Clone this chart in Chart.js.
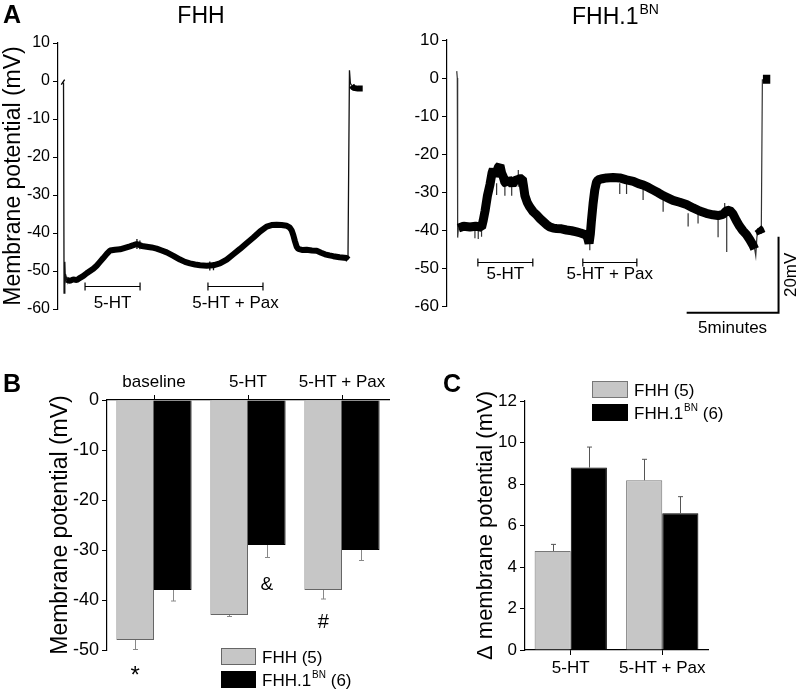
<!DOCTYPE html>
<html><head><meta charset="utf-8">
<script src="https://cdn.jsdelivr.net/npm/chart.js@4.4.1/dist/chart.umd.min.js"></script>
<style>
html,body{margin:0;padding:0;background:#fff}
body{width:800px;height:689px;position:relative;overflow:hidden}
canvas{position:absolute}
</style></head><body>
<canvas id="a1" width="400" height="345" style="left:0;top:0"></canvas>
<canvas id="a2" width="400" height="345" style="left:400px;top:0"></canvas>
<canvas id="b" width="400" height="369" style="left:0;top:320px"></canvas>
<canvas id="c" width="400" height="369" style="left:400px;top:320px"></canvas>
<script>
// ---------- Panel A: FHH trace (time in minutes, membrane potential in mV) ----------
const fhhTime = [0.24,0.30,null,0.47,0.65,0.83,1.02,1.20,1.38,1.56,1.74,1.92,2.10,2.28,2.46,2.65,2.83,3.10,3.37,3.64,3.91,4.10,4.28,4.55,4.82,5.09,5.36,5.64,5.91,6.27,6.63,6.90,7.17,7.45,7.72,8.08,8.44,8.80,9.17,9.53,9.89,10.25,10.62,10.98,11.34,11.61,11.88,12.15,12.43,12.60,12.70,12.79,12.88,12.97,13.06,13.30,13.51,13.80,14.06,14.30,14.51,14.75,14.96,15.30,15.69,15.78,null,15.96,16.05,16.30,16.56];
const fhhMv   = [-0.2,-0.4,null,-52.3,-52.6,-52.2,-52.4,-51.8,-51.3,-50.6,-50.0,-49.4,-48.6,-47.6,-46.6,-45.5,-44.6,-44.4,-44.3,-43.9,-43.5,-43.2,-42.9,-43.4,-43.6,-43.8,-44.1,-44.6,-45.1,-46.0,-47.0,-47.6,-48.0,-48.3,-48.5,-48.6,-48.5,-48.0,-47.0,-45.6,-44.2,-42.7,-41.2,-39.6,-38.3,-37.9,-37.8,-37.9,-38.1,-38.6,-39.3,-40.6,-42.2,-43.6,-44.2,-44.5,-44.4,-44.6,-44.7,-45.2,-45.6,-45.9,-46.1,-46.4,-46.6,-47.0,null,-1.2,-1.8,-2.0,-2.0];
const fhhJumpTime = [0.30,0.33,0.37,0.40,0.44,0.48,null,4.29,4.29,null,4.45,4.45,null,8.25,8.25,null,8.45,8.45,null,15.76,15.84,15.89,15.96];
const fhhJumpMv   = [-0.4,-55.8,-47.6,-52.6,-51.5,-52.3,null,-41.6,-44.2,null,-42.0,-44.3,null,-47.5,-49.9,null,-47.6,-49.8,null,-47.0,2.8,-0.6,-1.2];
const fhhDrugStart = [1.47, 8.15];
const fhhDrugEnd   = [4.46, 11.14];
const drugLabels   = ['5-HT', '5-HT + Pax'];
const fhhDrugMv    = -53.9;

// ---------- Panel A: FHH.1BN trace ----------
const bnTime = [0.62,0.90,1.25,1.56,1.88,1.97,2.07,2.20,2.34,2.45,2.52,2.61,2.70,2.79,2.88,2.97,3.06,3.15,3.24,3.33,3.42,3.56,3.70,3.83,3.97,4.10,4.15,4.24,4.37,4.51,4.69,4.87,5.06,5.24,5.42,5.60,5.78,5.96,6.23,6.50,6.78,7.05,7.27,7.50,7.64,7.73,7.80,7.86,7.95,8.04,8.13,8.22,8.45,8.68,9.04,9.40,9.77,10.14,10.42,10.69,10.96,11.23,11.50,11.78,12.04,12.30,12.66,13.03,13.39,13.75,14.11,14.47,14.75,15.02,15.20,15.38,15.56,15.74,15.92,16.10,16.29,16.47,16.65,16.74,null,16.92,17.01,17.10,null,17.19,17.59];
const bnMv   = [-39.5,-39.0,-39.2,-39.0,-39.3,-37.5,-35.0,-31.0,-28.0,-25.0,-24.0,-25.5,-25.0,-23.5,-23.0,-25.0,-26.0,-27.5,-27.8,-26.5,-27.2,-28.0,-27.0,-26.8,-26.5,-26.5,-28.0,-31.0,-32.8,-34.0,-35.2,-36.0,-37.0,-37.8,-38.6,-39.2,-39.5,-39.6,-39.7,-40.0,-40.2,-40.5,-40.8,-41.2,-41.8,-43.5,-41.0,-37.5,-33.0,-29.5,-27.5,-26.8,-26.5,-26.3,-26.2,-26.3,-26.8,-27.2,-27.8,-28.2,-28.8,-29.5,-30.2,-31.0,-31.6,-32.2,-32.7,-33.3,-34.2,-35.0,-35.6,-36.0,-36.2,-35.9,-35.0,-34.8,-35.8,-37.5,-39.0,-40.2,-41.2,-42.5,-44.0,-45.0,null,-39.5,-40.0,-41.0,null,-0.3,-0.3];
const bnJumpTime = [0.53,0.56,0.58,0.62,null,1.52,1.52,null,1.70,1.70,null,1.88,1.88,null,2.70,2.70,null,3.15,3.15,null,3.52,3.52,null,3.88,3.88,null,7.77,7.77,null,9.40,9.40,null,9.77,9.77,null,10.67,10.67,null,11.76,11.76,null,13.12,13.12,null,13.66,13.66,null,14.75,14.75,null,15.11,15.11,null,15.22,15.22,null,16.74,16.80,16.86,16.92,null,17.10,17.16,17.19];
const bnJumpMv   = [1.8,0.0,-42.0,-39.5,null,-40.0,-42.2,null,-40.0,-42.4,null,-40.0,-41.8,null,-27.7,-30.8,null,-27.7,-31.0,null,-27.7,-31.0,null,-24.2,-28.6,null,-42.0,-45.3,null,-27.7,-30.5,null,-27.7,-30.5,null,-28.5,-32.1,null,-32.1,-35.2,null,-35.6,-39.1,null,-35.8,-38.3,null,-37.4,-41.9,null,-32.9,-36.0,null,-36.0,-45.8,null,-45.0,-46.8,-42.0,-39.5,null,-41.0,-0.5,-0.3];
const bnDrugStart = [1.68, 7.39];
const bnDrugEnd   = [4.67, 10.33];
const bnDrugMv    = -48.3;
const scaleBarMinutes = 5, scaleBarMv = 20, scaleBarEndTime = 18.04, scaleBarBaseMv = -61.8;
const traceTicks = [10, 0, -10, -20, -30, -40, -50, -60];

// ---------- Panel B ----------
const bCategories = ['baseline', '5-HT', '5-HT + Pax'];
const bFHH    = [-48.0, -43.0, -38.0];
const bFHHErr = [1.9, 0.3, 1.8];
const bBN     = [-38.0, -29.0, -30.0];
const bBNErr  = [2.2, 2.5, 2.1];
const bMarks  = [['*', 0, 0, -56.6, 24], ['&', 1, 1, -38.0, 19], ['#', 2, 0, -45.6, 20]];

// ---------- Panel C ----------
const cCategories = ['5-HT', '5-HT + Pax'];
const cFHH    = [4.77, 8.18];
const cFHHErr = [0.32, 1.01];
const cBN     = [8.79, 6.59];
const cBNErr  = [0.99, 0.80];

const FONT = "'Liberation Sans', Arial, Helvetica, sans-serif";
Chart.defaults.font.family = FONT;
Chart.defaults.color = '#000';
const GRAY = '#c6c6c6';

function pts(ts, vs){ return ts.map((t,i)=>({x: t===null ? (ts[i-1]+0.001) : t, y: vs[i]})); }

function supText(ctx, x, y, base, sup, tail, size, supSize){
  ctx.textAlign='left'; ctx.textBaseline='alphabetic';
  ctx.font = size+'px '+FONT; ctx.fillText(base, x, y);
  let w = ctx.measureText(base).width;
  ctx.font = supSize+'px '+FONT; ctx.fillText(sup, x+w+1, y - size*0.45);
  w += ctx.measureText(sup).width + 1;
  if (tail){ ctx.font = size+'px '+FONT; ctx.fillText(tail, x+w, y); }
}

function bracketPlugin(starts, ends, mv, labelGap){
  return {id:'brackets', afterDraw(chart){
    const ctx=chart.ctx, xs=chart.scales.x, ys=chart.scales.y;
    ctx.save(); ctx.strokeStyle='#000'; ctx.lineWidth=1.2; ctx.fillStyle='#000';
    const y = Math.round(ys.getPixelForValue(mv))+0.5;
    starts.forEach((s,i)=>{
      const x1=xs.getPixelForValue(s), x2=xs.getPixelForValue(ends[i]);
      ctx.beginPath(); ctx.moveTo(x1,y); ctx.lineTo(x2,y);
      ctx.moveTo(x1,y-4); ctx.lineTo(x1,y+4); ctx.moveTo(x2,y-4); ctx.lineTo(x2,y+4); ctx.stroke();
      ctx.font='17px '+FONT; ctx.textAlign='center'; ctx.textBaseline='middle';
      ctx.fillText(drugLabels[i], (x1+x2)/2, y+labelGap);
    });
    ctx.restore();
  }};
}

function traceYAxis(width, size){
  return {min:-60, max:10, afterBuildTicks:s=>{s.ticks = traceTicks.map(v=>({value:v}));},
    grid:{drawOnChartArea:false, tickLength:5, color:'#000'}, border:{color:'#000', width:1.2},
    ticks:{font:{size:size}, padding:3, color:'#000'},
    afterFit:s=>{s.width=width;}};
}

// Panel A left
new Chart(document.getElementById('a1'), {
  type:'line',
  data:{datasets:[
    {data:pts(fhhTime,fhhMv), borderColor:'#000', borderWidth:6, pointRadius:0, borderJoinStyle:'bevel', spanGaps:false},
    {data:pts(fhhJumpTime,fhhJumpMv), borderColor:'#111', borderWidth:1.3, pointRadius:0, spanGaps:false}
  ]},
  options:{responsive:false, animation:false, devicePixelRatio:1,
    layout:{padding:{left:0, right:20, top:43, bottom:36}},
    plugins:{legend:{display:false}, tooltip:{enabled:false}},
    scales:{
      x:{type:'linear', min:0, max:17.5, display:false},
      y:Object.assign(traceYAxis(58,16), {title:{display:true, text:'Membrane potential (mV)', font:{size:23}, padding:{top:0,bottom:0}, color:'#000'}})
    }},
  plugins:[bracketPlugin(fhhDrugStart, fhhDrugEnd, fhhDrugMv, 17), {id:'titles', afterDraw(chart){
    const ctx=chart.ctx; ctx.save(); ctx.fillStyle='#000';
    ctx.font='bold 25px '+FONT; ctx.textAlign='left'; ctx.textBaseline='alphabetic'; ctx.fillText('A', 3, 23);
    ctx.font='23px '+FONT; ctx.textAlign='center'; ctx.fillText('FHH', 201, 23);
    ctx.restore();
  }}]
});

// Panel A right
new Chart(document.getElementById('a2'), {
  type:'line',
  data:{datasets:[
    {data:pts(bnTime,bnMv), borderColor:'#000', borderWidth:9, pointRadius:0, borderJoinStyle:'bevel', spanGaps:false},
    {data:pts(bnJumpTime,bnJumpMv), borderColor:'#333', borderWidth:1.2, pointRadius:0, spanGaps:false}
  ]},
  options:{responsive:false, animation:false, devicePixelRatio:1,
    layout:{padding:{left:0, right:13, top:40, bottom:39}},
    plugins:{legend:{display:false}, tooltip:{enabled:false}},
    scales:{
      x:{type:'linear', min:0, max:18.5, display:false},
      y:traceYAxis(47,17)
    }},
  plugins:[bracketPlugin(bnDrugStart, bnDrugEnd, bnDrugMv, 12), {id:'extras', afterDraw(chart){
    const ctx=chart.ctx, xs=chart.scales.x, ys=chart.scales.y;
    ctx.save(); ctx.fillStyle='#000'; ctx.strokeStyle='#000'; ctx.lineWidth=2;
    supText(ctx, 172, 24, 'FHH.1', 'BN', '', 23, 14);
    const xe=xs.getPixelForValue(scaleBarEndTime), xb=xs.getPixelForValue(scaleBarEndTime-scaleBarMinutes);
    const yb=ys.getPixelForValue(scaleBarBaseMv), yt=ys.getPixelForValue(scaleBarBaseMv+scaleBarMv);
    ctx.beginPath(); ctx.moveTo(xb,yb); ctx.lineTo(xe,yb); ctx.lineTo(xe,yt); ctx.stroke();
    ctx.font='17px '+FONT; ctx.textAlign='center'; ctx.textBaseline='middle';
    ctx.fillText('5minutes', (xb+xe)/2, yb+15);
    ctx.translate(xe+13, (yb+yt)/2); ctx.rotate(-Math.PI/2); ctx.fillText('20mV', 0, 0);
    ctx.restore();
  }}]
});

const errorBars = {id:'errorBars', afterDatasetsDraw(chart){
  const ctx=chart.ctx, ys=chart.scales.y;
  ctx.save();
  chart.data.datasets.forEach((ds,i)=>{
    const meta=chart.getDatasetMeta(i);
    meta.data.forEach((bar,j)=>{
      const v=ds.data[j], e=ds.errors[j], dir=v<0?-1:1;
      const y0=ys.getPixelForValue(v), y1=ys.getPixelForValue(v+dir*e);
      const x=Math.round(bar.x)+0.5;
      ctx.strokeStyle=ds.errorColor; ctx.lineWidth=1;
      ctx.beginPath(); ctx.moveTo(x,y0); ctx.lineTo(x,y1); ctx.moveTo(x-2.5,y1); ctx.lineTo(x+2.5,y1); ctx.stroke();
    });
  });
  ctx.restore();
}};

function legendBox(ctx, x, y, w, h, fill, border){
  ctx.fillStyle=fill; ctx.fillRect(x,y,w,h); ctx.strokeStyle=border; ctx.lineWidth=1; ctx.strokeRect(x+0.5,y+0.5,w-1,h-1);
}

// Panel B
new Chart(document.getElementById('b'), {
  type:'bar',
  data:{labels:bCategories, datasets:[
    {data:bFHH, errors:bFHHErr, errorColor:'#888', backgroundColor:GRAY, borderColor:'#666', borderWidth:1, categoryPercentage:0.8, barPercentage:1},
    {data:bBN, errors:bBNErr, errorColor:'#888', backgroundColor:'#000', borderColor:'#000', borderWidth:1, categoryPercentage:0.8, barPercentage:1}
  ]},
  options:{responsive:false, animation:false, devicePixelRatio:1,
    layout:{padding:{left:47, right:11, top:50, bottom:39}},
    plugins:{legend:{display:false}, tooltip:{enabled:false}},
    scales:{
      x:{position:'top', offset:true, grid:{drawOnChartArea:false, offset:false, tickLength:5, color:'#000'}, border:{color:'#000', width:1.2},
         ticks:{font:{size:17}, padding:2, color:'#000', maxRotation:0}, afterFit:s=>{s.height=30;}},
      y:{min:-50, max:0, ticks:{stepSize:10, font:{size:18}, padding:3, color:'#000'}, grid:{drawOnChartArea:false, tickLength:5, color:'#000'}, border:{color:'#000', width:1.2},
         title:{display:true, text:'Membrane potential (mV)', font:{size:23}, padding:{top:0,bottom:0}, color:'#000'}, afterFit:s=>{s.width=60;}}
    }},
  plugins:[errorBars, {id:'bExtras', afterDraw(chart){
    const ctx=chart.ctx, ys=chart.scales.y; ctx.save(); ctx.fillStyle='#000';
    ctx.font='bold 25px '+FONT; ctx.textAlign='left'; ctx.textBaseline='alphabetic'; ctx.fillText('B', 3, 72);
    bMarks.forEach(m=>{
      const bar=chart.getDatasetMeta(m[2]).data[m[1]];
      ctx.font=m[4]+'px '+FONT; ctx.textAlign='center'; ctx.textBaseline='alphabetic';
      ctx.fillText(m[0], bar.x, ys.getPixelForValue(m[3]));
    });
    legendBox(ctx, 221, 328, 35, 17, GRAY, '#666');
    legendBox(ctx, 221, 351, 35, 17, '#000', '#000');
    ctx.fillStyle='#000';
    ctx.font='17px '+FONT; ctx.textAlign='left'; ctx.textBaseline='alphabetic'; ctx.fillText('FHH (5)', 262, 343);
    supText(ctx, 262, 366, 'FHH.1', 'BN', ' (6)', 17, 10);
    ctx.restore();
  }}]
});

// Panel C
new Chart(document.getElementById('c'), {
  type:'bar',
  data:{labels:cCategories, datasets:[
    {data:cFHH, errors:cFHHErr, errorColor:'#555', backgroundColor:GRAY, borderColor:'#777', borderWidth:1, categoryPercentage:0.79, barPercentage:1},
    {data:cBN, errors:cBNErr, errorColor:'#555', backgroundColor:'#000', borderColor:'#000', borderWidth:1, categoryPercentage:0.79, barPercentage:1}
  ]},
  options:{responsive:false, animation:false, devicePixelRatio:1,
    layout:{padding:{left:73, right:92, top:81, bottom:9}},
    plugins:{legend:{display:false}, tooltip:{enabled:false}},
    scales:{
      x:{offset:true, grid:{drawOnChartArea:false, offset:false, tickLength:5, color:'#000'}, border:{color:'#000', width:1.2},
         ticks:{font:{size:17}, padding:3, color:'#000', maxRotation:0}, afterFit:s=>{s.height=30;}},
      y:{min:0, max:12, ticks:{stepSize:2, font:{size:17}, padding:3, color:'#000'}, grid:{drawOnChartArea:false, tickLength:5, color:'#000'}, border:{color:'#000', width:1.2},
         title:{display:true, text:'\u0394 membrane potential (mV)', font:{size:22}, padding:{top:0,bottom:0}, color:'#000'}, afterFit:s=>{s.width=52;}}
    }},
  plugins:[errorBars, {id:'cExtras', afterDraw(chart){
    const ctx=chart.ctx; ctx.save(); ctx.fillStyle='#000';
    ctx.font='bold 25px '+FONT; ctx.textAlign='left'; ctx.textBaseline='alphabetic'; ctx.fillText('C', 43, 72);
    legendBox(ctx, 192, 61, 36, 17, GRAY, '#777');
    legendBox(ctx, 192, 84, 36, 17, '#000', '#000');
    ctx.fillStyle='#000';
    ctx.font='17px '+FONT; ctx.fillText('FHH (5)', 234, 76);
    supText(ctx, 234, 99, 'FHH.1', 'BN', ' (6)', 17, 10);
    ctx.restore();
  }}]
});
</script>
</body></html>
